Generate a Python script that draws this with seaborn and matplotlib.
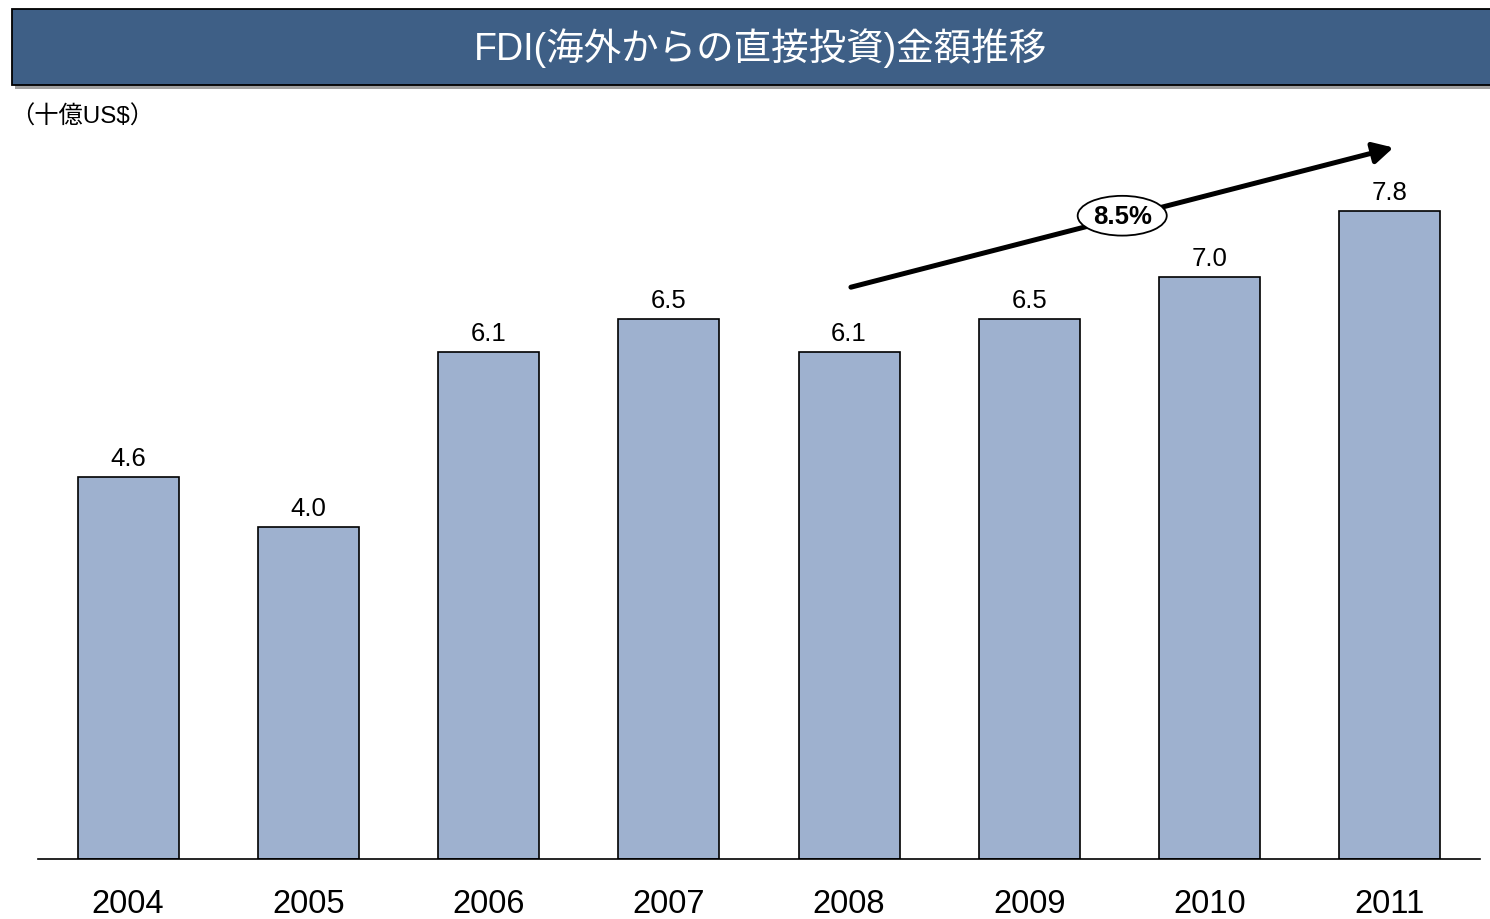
import matplotlib
matplotlib.use("Agg")
import matplotlib.pyplot as plt
from matplotlib.patches import Rectangle
import seaborn as sns
import pandas as pd

years = ["2004", "2005", "2006", "2007", "2008", "2009", "2010", "2011"]
values = [4.6, 4.0, 6.1, 6.5, 6.1, 6.5, 7.0, 7.8]
title = "FDI(海外からの直接投資)金額推移"
unit_label = "（十億US$）"
cagr_label = "8.5%"

sns.set_theme(style="white")
plt.rcParams["font.family"] = ["Liberation Sans", "Noto Sans CJK JP", "DejaVu Sans"]

df = pd.DataFrame({"year": years, "value": values})

fig = plt.figure(figsize=(14.9, 9.2), dpi=100)
ax = fig.add_axes([38 / 1490, 60 / 920, 1442 / 1490, 748 / 920])

sns.barplot(data=df, x="year", y="value", ax=ax, color="#9EB1CF",
            saturation=1, edgecolor="black", linewidth=1.2, width=0.56)
ax.set_xlim(-0.5, len(years) - 0.5)
ax.set_ylim(0, 9.0)
ax.set_xlabel("")
ax.set_ylabel("")
ax.set_yticks([])
for s in ["top", "left", "right"]:
    ax.spines[s].set_visible(False)
ax.spines["bottom"].set_color("black")
ax.spines["bottom"].set_linewidth(1.2)
ax.tick_params(axis="x", length=0, pad=21, labelsize=23.5, colors="black")

ax.bar_label(ax.containers[0], fmt="%.1f", padding=5, fontsize=18.5, color="black")

# CAGR arrow from 2008 to beyond 2011
i0 = years.index("2008")
i1 = years.index("2011")
start = (i0 + 0.01, values[i0] + 0.78)
end = (i1 + 0.02, values[i1] + 0.76)
ax.annotate("", xy=end, xytext=start,
            arrowprops=dict(arrowstyle="-|>,head_length=0.6,head_width=0.32",
                            lw=3.6, color="black", mutation_scale=20,
                            shrinkA=0, shrinkB=0))
mx = (start[0] + end[0]) / 2
my = (start[1] + end[1]) / 2
ax.text(mx, my + 0.02, cagr_label, ha="center", va="center", fontsize=18.5,
        fontweight="bold", color="black",
        bbox=dict(boxstyle="ellipse,pad=0.08", fc="white", ec="black", lw=1.3))

# Title bar with shadow
fig.patches.append(Rectangle((15 / 1490, 1 - 90 / 920), 1.0, 76 / 920,
                             transform=fig.transFigure, facecolor="#A0A0A0",
                             edgecolor="none", zorder=0))
fig.patches.append(Rectangle((12 / 1490, 1 - 86 / 920), 1.0, 76 / 920,
                             transform=fig.transFigure, facecolor="#3E5F86",
                             edgecolor="black", linewidth=1.3, zorder=1))
fig.text(760 / 1490, 1 - 48 / 920, title, ha="center", va="center",
         fontsize=27, color="white", zorder=2)

fig.text(10 / 1490, 1 - 117 / 920, unit_label, ha="left", va="center",
         fontsize=17.5, color="black")

fig.savefig("out.png", dpi=100)
